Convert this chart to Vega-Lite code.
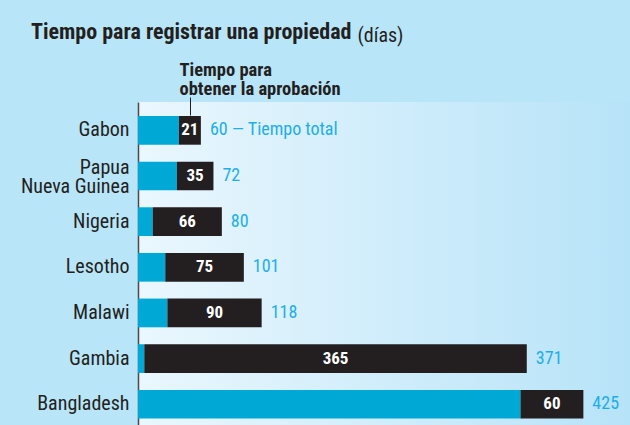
{
  "$schema": "https://vega.github.io/schema/vega-lite/v6.json",
  "autosize": {"type": "none"},
  "padding": {"left": 138, "top": 102, "right": 0, "bottom": 0},
  "width": 492,
  "height": 323,
  "background": "#b9e5f9",
  "config": {
    "font": "Liberation Sans Narrow, Roboto Condensed, Liberation Sans",
    "view": {
      "stroke": null,
      "fill": {"gradient": "linear", "x1": 0, "y1": 0, "x2": 1, "y2": 0,
        "stops": [{"offset": 0, "color": "#eaf7fe"}, {"offset": 1, "color": "#b7e3f8"}]}
    }
  },
  "title": {
    "text": "Tiempo para registrar una propiedad",
    "anchor": "start",
    "frame": "group",
    "dx": -107,
    "offset": -19,
    "fontSize": 22,
    "fontWeight": "bold",
    "color": "#231f20",
    "font": "Liberation Sans Narrow, Roboto Condensed, Liberation Sans"
  },
  "data": {
    "values": [
      {"pais": "Gabon", "otros": 39, "aprobacion": 21, "total": 60, "etiqueta": "60 — Tiempo total"},
      {"pais": "Papua Nueva Guinea", "otros": 37, "aprobacion": 35, "total": 72, "etiqueta": "72"},
      {"pais": "Nigeria", "otros": 14, "aprobacion": 66, "total": 80, "etiqueta": "80"},
      {"pais": "Lesotho", "otros": 26, "aprobacion": 75, "total": 101, "etiqueta": "101"},
      {"pais": "Malawi", "otros": 28, "aprobacion": 90, "total": 118, "etiqueta": "118"},
      {"pais": "Gambia", "otros": 6, "aprobacion": 365, "total": 371, "etiqueta": "371"},
      {"pais": "Bangladesh", "otros": 365, "aprobacion": 60, "total": 425, "etiqueta": "425"}
    ]
  },
  "encoding": {
    "y": {
      "field": "pais", "type": "nominal", "sort": null,
      "scale": {"paddingInner": 0.371, "paddingOuter": 0.2234, "align": 0.686},
      "axis": {
        "orient": "left",
        "domain": true, "domainColor": "#4a4a4a", "domainWidth": 1.5,
        "ticks": false, "grid": false,
        "labelPadding": 9,
        "labelFontSize": 20,
        "labelColor": "#231f20",
        "labelLineHeight": 19.5,
        "labelOffset": {"condition": {"test": "datum.value == 'Papua Nueva Guinea'", "value": -8}, "value": 0},
        "labelExpr": "datum.label == 'Papua Nueva Guinea' ? ['Papua', 'Nueva Guinea'] : datum.label",
        "title": "(días)",
        "titleAngle": 0,
        "titleAlign": "left",
        "titleBaseline": "alphabetic",
        "titleX": 219,
        "titleY": -61,
        "titleFontSize": 20,
        "titleFontWeight": "normal",
        "titleColor": "#231f20"
      }
    }
  },
  "layer": [
    {
      "transform": [{"fold": ["otros", "aprobacion"], "as": ["seg", "dias"]}],
      "mark": {"type": "bar"},
      "encoding": {
        "x": {
          "field": "dias", "type": "quantitative", "stack": "zero",
          "scale": {"domain": [0, 469.5], "nice": false},
          "axis": {
            "orient": "top",
            "values": [49.5],
            "domain": false, "labels": false, "grid": false,
            "ticks": true, "tickSize": -18, "tickColor": "#231f20", "tickWidth": 1,
            "offset": 5,
            "title": ["Tiempo para", "obtener la aprobación"],
            "titleX": 41,
            "titleY": -18,
            "titleAlign": "left",
            "titleAngle": 0,
            "titleBaseline": "bottom",
            "titleFontSize": 18.5,
            "titleLineHeight": 19.5,
            "titleFontWeight": "bold",
            "titleColor": "#231f20"
          }
        },
        "color": {
          "field": "seg", "type": "nominal",
          "scale": {"domain": ["otros", "aprobacion"], "range": ["#00a9d5", "#231f20"]},
          "legend": null
        },
        "order": {"field": "seg", "sort": "descending"}
      }
    },
    {
      "transform": [{"fold": ["otros", "aprobacion"], "as": ["seg", "dias"]}],
      "mark": {"type": "text", "color": "white", "fontWeight": "bold", "fontSize": 17, "align": "center", "baseline": "middle"},
      "encoding": {
        "x": {"field": "dias", "type": "quantitative", "stack": "zero", "bandPosition": 0.5},
        "detail": {"field": "seg"},
        "order": {"field": "seg", "sort": "descending"},
        "text": {"condition": {"test": "datum.seg === 'aprobacion'", "field": "dias"}, "value": ""}
      }
    },
    {
      "mark": {"type": "text", "color": "#1daee8", "fontSize": 18, "align": "left", "baseline": "middle", "dx": 9},
      "encoding": {
        "x": {"field": "total", "type": "quantitative"},
        "text": {"field": "etiqueta"}
      }
    }
  ]
}
